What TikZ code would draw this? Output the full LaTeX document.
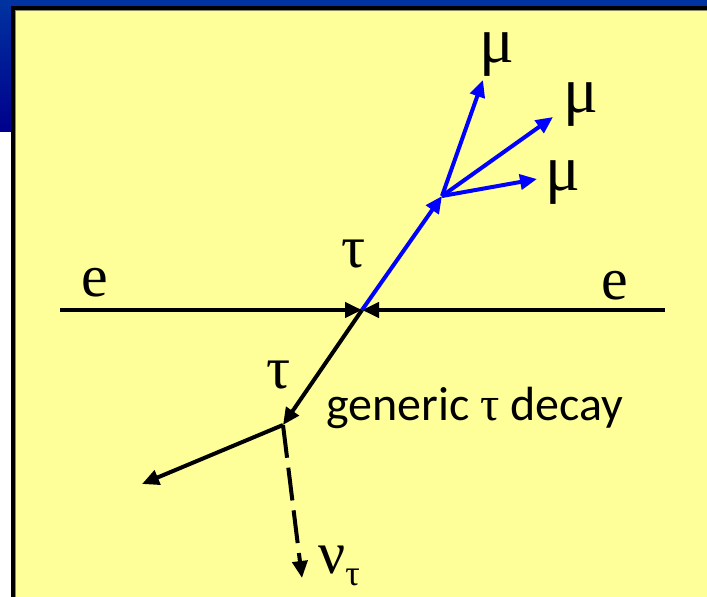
\documentclass[tikz,border=0pt]{standalone}
\usepackage{fontspec}
\setmainfont{Liberation Serif}
\newfontfamily\serf{Liberation Serif}
\newfontfamily\calib{Carlito}
\usetikzlibrary{arrows.meta}
\definecolor{slideblue}{RGB}{0,51,160}
\definecolor{slidedark}{RGB}{0,0,140}
\definecolor{paleyellow}{RGB}{255,255,153}
\definecolor{edgeline}{RGB}{140,140,100}
\begin{document}
\begin{tikzpicture}[x=1pt,y=-1pt,
  arr/.style={line width=4pt,-{Triangle[length=17pt,width=15pt]}},
  lab/.style={inner sep=0pt,anchor=base,font=\serf\fontsize{60}{60}\selectfont},
  mulab/.style={lab,font=\serf\fontsize{65}{65}\selectfont},
]
\useasboundingbox (0,0) rectangle (707,597);
% slide background
\fill[white] (0,0) rectangle (707,597);
\shade[top color=slideblue,bottom color=slidedark] (0,0) rectangle (11,131);
\fill[slideblue] (0,0) rectangle (707,6);
\fill[black] (11,6) rectangle (707,597);
\fill[edgeline] (15,10) rectangle (707,597);
\fill[paleyellow] (16,11) rectangle (707,597);
% points
\coordinate (L) at (60,310);
\coordinate (R) at (665,310);
\coordinate (C) at (362,310);
\coordinate (V) at (442,196);
\coordinate (M1) at (483,80);
\coordinate (M2) at (553,117);
\coordinate (M3) at (537,179);
\coordinate (D) at (283,425);
\coordinate (X) at (142,484);
\coordinate (N) at (302,578);
% beams
\draw[arr] (L) -- (C);
\draw[arr] (R) -- (C);
% tau to muons
\draw[arr,blue] (C) -- (V);
\draw[arr,blue] (V) -- (M1);
\draw[arr,blue] (V) -- (M2);
\draw[arr,blue] (V) -- (M3);
% generic decay
\draw[arr] (C) -- (D);
\draw[arr] (D) -- (X);
\draw[arr,dash pattern=on 33pt off 10pt] (D) -- (N);
% labels
\node[lab] (eL) at (95,296) {e};
\node[lab] (eR) at (615,299) {e};
\node[lab] (t1) at (354,267) {τ};
\node[lab] (t2) at (279,388) {τ};
\node[mulab] (m1) at (497,62) {μ};
\node[mulab] (m2) at (581,112) {μ};
\node[mulab] (m3) at (563,190) {μ};
\node[inner sep=0pt,anchor=base west,font=\serf\fontsize{60}{60}\selectfont] (nu) at (318,573) {ν\raisebox{-12pt}{\fontsize{36}{36}\selectfont τ}};
\node[inner sep=0pt,anchor=base west,font=\calib\fontsize{48}{48}\selectfont] (gen) at (326,420) {generic {\serf τ} decay};
\end{tikzpicture}
\end{document}
